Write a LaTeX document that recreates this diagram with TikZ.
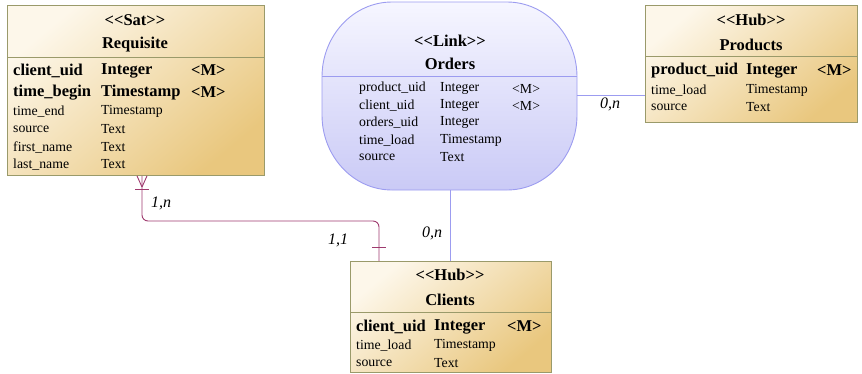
\documentclass[tikz,border=0pt]{standalone}
\usepackage{fontspec}
\setmainfont{Liberation Serif}
\definecolor{boxline}{HTML}{9A9A6A}
\definecolor{boxtop}{HTML}{FDF7EA}
\definecolor{boxbot}{HTML}{E9C77E}
\definecolor{linkline}{HTML}{9C9CF0}
\definecolor{linktop}{HTML}{F6F6FF}
\definecolor{linkbot}{HTML}{CACAF6}
\definecolor{relcol}{HTML}{9E3A6E}
\newcommand{\stt}[1]{<\kern0pt<#1>\kern0pt>}
\tikzset{
  entbox/.style={draw=boxline, line width=0.9pt, top color=boxtop, bottom color=boxbot, shading angle=40, anchor=north west, inner sep=0pt},
  linkshape/.style={draw=linkline, line width=0.9pt, top color=linktop, bottom color=linkbot},
  sepline/.style={draw=boxline, line width=0.9pt},
  lsepline/.style={draw=linkline, line width=0.9pt},
  headtxt/.style={font=\bfseries\fontsize{16.5}{18}\selectfont, inner sep=0pt, yshift=-2pt},
  bigtxt/.style={font=\bfseries\fontsize{16.5}{18}\selectfont, anchor=west, inner sep=0pt, yshift=-1.5pt},
  smalltxt/.style={font=\fontsize{13.8}{15}\selectfont, anchor=west, inner sep=0pt, yshift=-1.5pt},
  cardtxt/.style={font=\itshape\fontsize{16}{18}\selectfont, inner sep=0pt},
  relline/.style={draw=relcol, line width=0.9pt},
  lnkline/.style={draw=linkline, line width=0.9pt},
}
\begin{document}
\begin{tikzpicture}[x=1pt,y=-1pt]
\useasboundingbox (0,0) rectangle (862,373);

% ---------- Requisite ----------
\node[entbox, minimum width=257pt, minimum height=170pt] (req) at (7,5) {};
\draw[sepline] (req.west |- 0,57) -- (req.east |- 0,57);
\node[headtxt] (reqst) at (135,18) {\stt{Sat}};
\node[headtxt] (reqnm) at (135,43) {Requisite};
\node[bigtxt] (r1a) at (13,69) {client\_uid};
\node[bigtxt] (r1b) at (101,69) {Integer};
\node[bigtxt] (r1c) at (191,69) {<M>};
\node[bigtxt] (r2a) at (13,91) {time\_begin};
\node[bigtxt] (r2b) at (101,91) {Timestamp};
\node[bigtxt] (r2c) at (191,91) {<M>};
\node[smalltxt] (r3a) at (13,110) {time\_end};
\node[smalltxt] (r3b) at (101,110) {Timestamp};
\node[smalltxt] (r4a) at (13,128) {source};
\node[smalltxt] (r4b) at (101,128) {Text};
\node[smalltxt] (r5a) at (13,146) {first\_name};
\node[smalltxt] (r5b) at (101,146) {Text};
\node[smalltxt] (r6a) at (13,163) {last\_name};
\node[smalltxt] (r6b) at (101,163) {Text};

% ---------- Orders ----------
\shade[linkshape] (392,2) -- (507,2) .. controls (545.7,2) and (577,35.6) .. (577,77)
  -- (577,115) .. controls (577,156.4) and (545.7,190) .. (507,190)
  -- (392,190) .. controls (353.3,190) and (322,156.4) .. (322,115)
  -- (322,77) .. controls (322,35.6) and (353.3,2) .. cycle;
\node[minimum width=255pt, minimum height=188pt, anchor=north west, inner sep=0pt] (ord) at (322,2) {};
\draw[lsepline] (ord.west |- 0,76) -- (ord.east |- 0,76);
\node[headtxt] (ordst) at (450,39) {\stt{Link}};
\node[headtxt] (ordnm) at (450,62) {Orders};
\node[smalltxt] (o1a) at (359,87) {product\_uid};
\node[smalltxt] (o1b) at (440,87) {Integer};
\node[smalltxt] (o1c) at (512,87) {<M>};
\node[smalltxt] (o2a) at (359,104) {client\_uid};
\node[smalltxt] (o2b) at (440,104) {Integer};
\node[smalltxt] (o2c) at (512,104) {<M>};
\node[smalltxt] (o3a) at (359,121) {orders\_uid};
\node[smalltxt] (o3b) at (440,121) {Integer};
\node[smalltxt] (o4a) at (359,139) {time\_load};
\node[smalltxt] (o4b) at (440,139) {Timestamp};
\node[smalltxt] (o5a) at (359,156) {source};
\node[smalltxt] (o5b) at (440,156) {Text};

% ---------- Products ----------
\node[entbox, minimum width=212pt, minimum height=117pt] (prd) at (645,5) {};
\draw[sepline] (prd.west |- 0,56) -- (prd.east |- 0,56);
\node[headtxt] (prdst) at (751,18) {\stt{Hub}};
\node[headtxt] (prdnm) at (751,43) {Products};
\node[bigtxt] (p1a) at (651,69) {product\_uid};
\node[bigtxt] (p1b) at (746,69) {Integer};
\node[bigtxt] (p1c) at (817,69) {<M>};
\node[smalltxt] (p2a) at (651,89) {time\_load};
\node[smalltxt] (p2b) at (746,89) {Timestamp};
\node[smalltxt] (p3a) at (651,106) {source};
\node[smalltxt] (p3b) at (746,106) {Text};

% ---------- Clients ----------
\node[entbox, minimum width=201pt, minimum height=111pt] (cli) at (350,261) {};
\draw[sepline] (cli.west |- 0,312) -- (cli.east |- 0,312);
\node[headtxt] (clist) at (450,273) {\stt{Hub}};
\node[headtxt] (clinm) at (450,298) {Clients};
\node[bigtxt] (c1a) at (356,325) {client\_uid};
\node[bigtxt] (c1b) at (434,325) {Integer};
\node[bigtxt] (c1c) at (507,325) {<M>};
\node[smalltxt] (c2a) at (356,344) {time\_load};
\node[smalltxt] (c2b) at (434,344) {Timestamp};
\node[smalltxt] (c3a) at (356,362) {source};
\node[smalltxt] (c3b) at (434,362) {Text};

% ---------- Connectors ----------
% Orders -- Products
\draw[lnkline] (ord.east |- 0,95) -- (prd.west |- 0,95);
\node[cardtxt] (lbop) at (610,104) {0,n};
% Orders -- Clients
\draw[lnkline] (ord.south -| 450,0) -- (cli.north -| 450,0);
\node[cardtxt] (lboc) at (432,233) {0,n};
% Requisite -- Clients
\coordinate (rq) at (req.south -| 142,0);
\coordinate (cl) at (cli.north -| 379,0);
\draw[relline, rounded corners=6pt] (rq) |- (379,221) -- (cl);
% crow's foot at Requisite
\draw[relline] (req.south -| 137,0) -- (142,187);
\draw[relline] (req.south -| 147,0) -- (142,187);
\draw[relline] (135,189) -- (149,189);
% bar at Clients
\draw[relline] (372,247) -- (386,247);
\node[cardtxt] (lbrq) at (161,203) {1,n};
\node[cardtxt] (lbcl) at (338,240) {1,1};
\end{tikzpicture}
\end{document}
